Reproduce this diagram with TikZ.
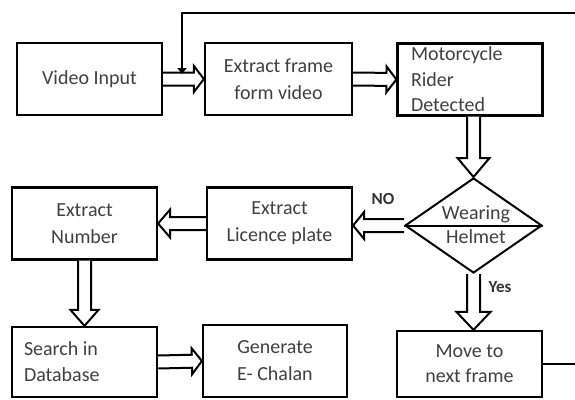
\documentclass[tikz,border=0pt]{standalone}
\usepackage{fontspec}
\setmainfont{Carlito}
\usetikzlibrary{calc,shapes.geometric,arrows.meta}

\begin{document}
\begin{tikzpicture}[x=1pt,y=-1pt,
  box/.style={draw, rectangle, line width=2.2pt, minimum width=145pt, minimum height=72pt, inner sep=0pt, align=center, text=black!75, font=\fontsize{20}{27}\selectfont},
  txt/.style={inner sep=0pt, align=center, text=black!75, font=\fontsize{20}{24}\selectfont},
  lbl/.style={inner sep=0pt, text=black!80, font=\fontsize{17}{20}\selectfont\bfseries},
  hollow/.style 2 args={draw, line width=2pt, fill=white, to path={
    ($(\tikztostart)!6.5pt!90:(\tikztotarget)$)
    -- ($(\tikztotarget)!#1!(\tikztostart)!6.5pt!90:(\tikztotarget)$)
    -- ($(\tikztotarget)!#1!(\tikztostart)!#2!90:(\tikztotarget)$)
    -- (\tikztotarget)
    -- ($(\tikztotarget)!#1!(\tikztostart)!#2!-90:(\tikztotarget)$)
    -- ($(\tikztotarget)!#1!(\tikztostart)!6.5pt!-90:(\tikztotarget)$)
    -- ($(\tikztostart)!6.5pt!-90:(\tikztotarget)$)}},
  loopline/.style={draw, line width=2.5pt, -{Triangle[length=6pt,width=9pt]}}]
\useasboundingbox (0,0) rectangle (575,399);

% top row
\node[box] (vid) at (89.5,79) {Video Input};
\node[box, minimum width=147pt] (frm) at (278.5,79) {Extract frame\\form video};
\node[box, align=flush left, text width=118pt, font=\fontsize{20}{25.5}\selectfont] (mot) at (470,79.5) {Motorcycle\\Rider\\Detected};

% decision
\node[draw, diamond, line width=2pt, minimum width=137pt, minimum height=95pt, inner sep=0pt] (dec) at (473.5,225.5) {};
\draw[line width=2pt] (dec.west) -- (dec.east);
\node[txt] (dect) at (476,225) {Wearing\\Helmet};

% middle row
\node[box] (lic) at (279.5,223.5) {Extract\\Licence plate};
\node[box] (num) at (84.5,223.5) {Extract\\Number};

% bottom row
\node[box, align=flush left, text width=121pt, minimum height=70pt, font=\fontsize{20}{26}\selectfont] (sea) at (84.5,362) {Search in\\Database};
\node[box, minimum width=144pt] (gen) at (275,361) {Generate\\E- Chalan};
\node[box, minimum height=66pt, font=\fontsize{20}{25}\selectfont] (mov) at (469.5,364) {Move to\\next frame};

\node[lbl] (no) at (383,199) {NO};
\node[lbl] (yes) at (500,287) {Yes};

% block arrows
\draw[hollow={10pt}{13pt}] (vid.east) to (frm.west);
\draw[hollow={10pt}{13pt}] (frm.east) to (mot.west);
\draw[hollow={19pt}{16pt}] (dec.north |- mot.south) to (dec.north);
\draw[hollow={11pt}{13.5pt}] (dec.west) to (dec.west -| lic.east);
\draw[hollow={12pt}{14pt}] (lic.west) to (num.east);
\draw[hollow={16pt}{14pt}] (num.south) to (sea.north);
\draw[hollow={10pt}{13pt}] (sea.east) to (gen.west);
\draw[hollow={18pt}{17pt}] (dec.south) to (dec.south |- mov.north);

% back to the frame extraction
\coordinate (lp1) at (577,13);
\coordinate (lp2) at (182,13);
\coordinate (ent) at (182,74);
\draw[loopline] (mov.east) -| (lp1) -- (lp2) -- (ent);
\end{tikzpicture}
\end{document}
